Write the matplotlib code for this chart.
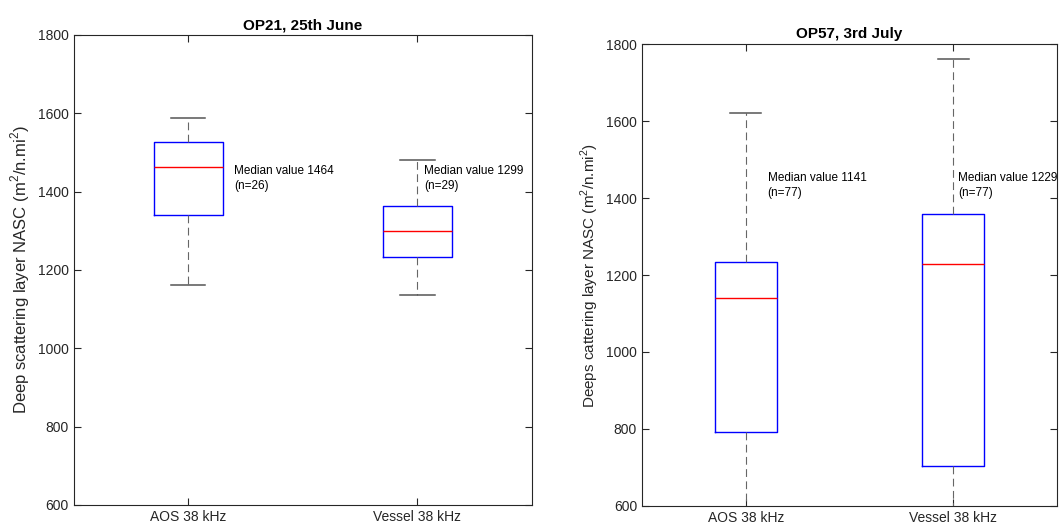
import matplotlib
matplotlib.use("Agg")
import matplotlib.pyplot as plt

plt.rcParams['font.family'] = ['Liberation Sans', 'DejaVu Sans']
plt.rcParams['mathtext.fontset'] = 'custom'
plt.rcParams['mathtext.rm'] = 'Liberation Sans'

categories = ['AOS 38 kHz', 'Vessel 38 kHz']

# OP21 (25th June): lower whisker, q1, median, q3, upper whisker
op21_low = [1162, 1135]
op21_q1 = [1340, 1233]
op21_med = [1464, 1299]
op21_q3 = [1527, 1364]
op21_high = [1587, 1480]
op21_n = [26, 29]

# OP57 (3rd July); lower whiskers run below the axis limit
op57_low = [450, 420]
op57_q1 = [792, 703]
op57_med = [1141, 1229]
op57_q3 = [1235, 1358]
op57_high = [1620, 1762]
op57_n = [77, 77]


def make_stats(lo, q1, med, q3, hi):
    out = []
    for i in range(len(lo)):
        out.append(dict(whislo=lo[i], q1=q1[i], med=med[i], q3=q3[i],
                        whishi=hi[i], fliers=[]))
    return out


def draw_panel(ax, stats, meds, ns, title, ylabel, ylabel_size, text_dx):
    ax.bxp(stats, positions=[1, 2], widths=0.3, showfliers=False,
           boxprops=dict(color='blue', linewidth=1.0),
           medianprops=dict(color='red', linewidth=1.0),
           whiskerprops=dict(color='#666666', linestyle=(0, (7, 4)), linewidth=0.8),
           capprops=dict(color='#555555', linewidth=1.1),
           capwidths=0.15)
    ax.set_xlim(0.5, 2.5)
    ax.set_ylim(600, 1800)
    ax.set_yticks(range(600, 1801, 200))
    ax.set_xticks([1, 2])
    ax.set_xticklabels(categories)
    ax.tick_params(direction='in', top=True, right=True, labelsize=10,
                   colors='#262626', length=5)
    for sp in ax.spines.values():
        sp.set_color('#262626')
        sp.set_linewidth(0.8)
    ax.set_title(title, fontsize=11, fontweight='bold', pad=4)
    ax.set_ylabel(ylabel, fontsize=ylabel_size, color='#262626')
    for i in range(2):
        ax.text(1 + i + text_dx[i], 1468,
                'Median value %d\n(n=%d)' % (meds[i], ns[i]),
                fontsize=8.5, va='top', ha='left', linespacing=1.35,
                clip_on=False)


fig = plt.figure(figsize=(10.59, 5.29), dpi=100)
ax1 = fig.add_axes([0.0696, 0.0454, 0.4328, 0.8885])
ax2 = fig.add_axes([0.6062, 0.0435, 0.3919, 0.8733])

draw_panel(ax1, make_stats(op21_low, op21_q1, op21_med, op21_q3, op21_high),
           op21_med, op21_n, 'OP21, 25th June',
           'Deep scattering layer NASC (m$^2$/n.mi$^2$)', 12, [0.199, 0.03])
draw_panel(ax2, make_stats(op57_low, op57_q1, op57_med, op57_q3, op57_high),
           op57_med, op57_n, 'OP57, 3rd July',
           'Deeps cattering layer NASC (m$^2$/n.mi$^2$)', 11, [0.105, 0.023])

fig.savefig('out.png', dpi=100)
